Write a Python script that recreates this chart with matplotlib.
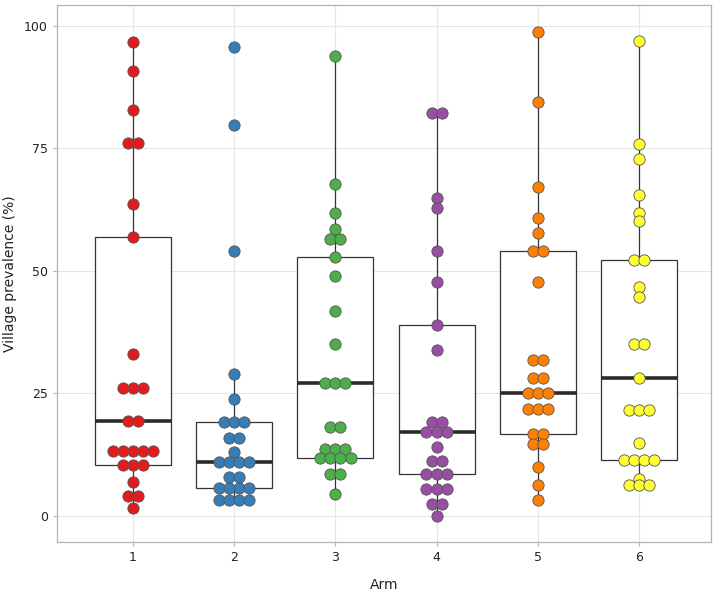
import matplotlib.pyplot as plt
import numpy as np

# Village prevalence (%) per arm
arm_labels = ['1', '2', '3', '4', '5', '6']
arm1 = [96.8, 90.9, 82.8, 76.1, 76.1, 63.7, 56.9, 32.9, 26.0, 26.0, 26.0,
        19.4, 19.4, 13.1, 13.1, 13.1, 13.1, 13.1, 10.4, 10.4, 10.4, 6.8,
        3.95, 3.95, 1.6]
arm2 = [95.8, 79.8, 54.1, 29.0, 23.9, 19.1, 19.1, 19.1, 15.9, 15.9, 12.9,
        10.9, 10.9, 10.9, 10.9, 7.8, 7.8, 5.6, 5.6, 5.6, 5.6, 3.1, 3.1,
        3.1, 3.1]
arm3 = [93.9, 67.8, 61.9, 58.6, 56.5, 56.5, 52.8, 48.9, 41.8, 35.0, 27.0,
        27.0, 27.0, 18.0, 18.0, 13.6, 13.6, 13.6, 11.8, 11.8, 11.8, 11.8,
        8.5, 8.5, 4.4]
arm4 = [82.3, 82.3, 64.8, 62.9, 54.1, 47.7, 38.9, 33.9, 19.1, 19.1, 17.0,
        17.0, 17.0, 14.1, 11.1, 11.1, 8.5, 8.5, 8.5, 5.5, 5.5, 5.5, 2.4,
        2.4, 0.0]
arm5 = [98.7, 84.5, 67.1, 60.7, 57.8, 54.1, 54.1, 47.7, 31.8, 31.8, 28.0,
        28.0, 25.0, 25.0, 25.0, 21.7, 21.7, 21.7, 16.6, 16.6, 14.7, 14.7,
        10.0, 6.2, 3.1]
arm6 = [96.9, 75.9, 72.9, 65.5, 61.9, 60.1, 52.3, 52.3, 46.6, 44.6, 35.1,
        35.1, 28.0, 21.6, 21.6, 21.6, 14.9, 11.3, 11.3, 11.3, 11.3, 7.4,
        6.2, 6.2, 6.2]

groups = [arm1, arm2, arm3, arm4, arm5, arm6]
colors = ['#E41A1C', '#377EB8', '#4DAF4A', '#984EA3', '#FF7F00', '#FFFF33']

fig = plt.figure(figsize=(7.17, 5.91), dpi=100)
ax = fig.add_axes([0.0795, 0.083, 0.912, 0.9085])

positions = np.arange(1, len(groups) + 1)
ax.boxplot(groups, positions=positions, widths=0.75, showfliers=False,
           patch_artist=True, showcaps=False,
           boxprops=dict(facecolor='white', edgecolor='#333333', linewidth=0.9),
           whiskerprops=dict(color='#333333', linewidth=0.9),
           medianprops=dict(color='#2b2b2b', linewidth=2.6),
           zorder=2)

# simple centred beeswarm: equal values are laid side by side
step = 0.1
for pos, vals, col in zip(positions, groups, colors):
    vals = np.array(vals)
    xs = np.zeros(len(vals))
    for v in np.unique(vals):
        idx = np.where(vals == v)[0]
        n = len(idx)
        xs[idx] = pos + (np.arange(n) - (n - 1) / 2) * step
    ax.scatter(xs, vals, s=66, color=col, edgecolor='#555555',
               linewidth=0.6, zorder=3)

ax.set_xlim(0.25, 6.71)
ax.set_ylim(-5.4, 104.3)
ax.set_xticks(positions)
ax.set_xticklabels(arm_labels)
ax.set_yticks([0, 25, 50, 75, 100])
ax.grid(True, color='#e6e6e6', linewidth=0.8, zorder=0)
ax.set_axisbelow(True)
for sp in ax.spines.values():
    sp.set_color('#b3b3b3')
    sp.set_linewidth(0.9)
ax.tick_params(axis='both', colors='#b3b3b3', labelcolor='#222222',
               labelsize=9, length=3)
ax.set_xlabel('Arm', fontsize=10, color='#222222', labelpad=10)
ax.set_ylabel('Village prevalence (%)', fontsize=10, color='#222222',
              labelpad=5)

fig.savefig('out.png', dpi=100)
